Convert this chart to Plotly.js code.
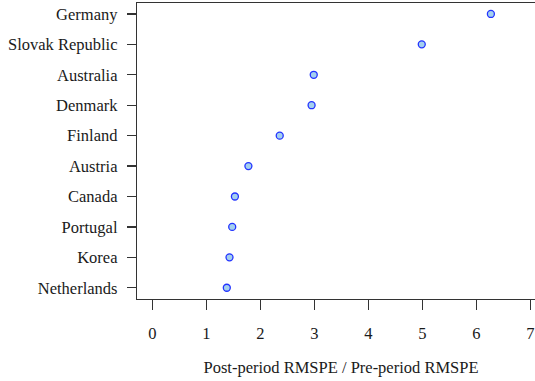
<!DOCTYPE html>
<html>
<head>
<meta charset="utf-8">
<script src="https://cdn.plot.ly/plotly-3.0.1.min.js"></script>
<style>
html,body{margin:0;padding:0;overflow:hidden;background:#fff;width:535px;height:381px;}
#chart{width:550px;height:381px;}
</style>
</head>
<body>
<div id="chart"></div>
<script>
// Countries listed from bottom to top
var countries = ["Netherlands","Korea","Portugal","Canada","Austria","Finland","Denmark","Australia","Slovak Republic","Germany"];
var ratio = [1.38, 1.43, 1.48, 1.53, 1.78, 2.36, 2.95, 2.99, 4.99, 6.27];
var xTicks = [0,1,2,3,4,5,6,7];

var fontFam = "Liberation Serif, serif";
var txtCol = "#1a1a1a";
var trace = {
  type: "scatter",
  mode: "markers",
  x: ratio,
  y: countries,
  marker: {symbol: "circle", size: 7, color: "#a4d0ee", line: {color: "#2233ff", width: 1.3}},
  hoverinfo: "x+y"
};
var layout = {
  width: 550, height: 381,
  margin: {l: 137, r: 5, t: 3, b: 82},
  paper_bgcolor: "#fff", plot_bgcolor: "#fff",
  showlegend: false,
  font: {family: fontFam, size: 16.5, color: txtCol},
  xaxis: {
    range: [-0.283, 7.272],
    tickvals: xTicks,
    ticktext: xTicks.map(String),
    showgrid: false, zeroline: false,
    showline: true, mirror: true, linecolor: "#333", linewidth: 1.2,
    ticks: "outside", ticklen: 10, tickwidth: 1.2, tickcolor: "#333",
    ticklabelstandoff: 9,
    tickfont: {family: fontFam, size: 16.5, color: txtCol},
    title: {text: "Post-period RMSPE / Pre-period RMSPE", font: {family: fontFam, size: 16.5, color: txtCol}, standoff: 19}
  },
  yaxis: {
    type: "category",
    categoryorder: "array", categoryarray: countries,
    range: [-0.37, 9.36],
    showgrid: false, zeroline: false,
    showline: true, mirror: true, linecolor: "#333", linewidth: 1.2,
    ticks: "outside", ticklen: 9, tickwidth: 1.2, tickcolor: "#333",
    ticklabelstandoff: 6,
    tickfont: {family: fontFam, size: 16.5, color: txtCol}
  }
};
Plotly.newPlot("chart", [trace], layout, {displayModeBar: false, staticPlot: true});
</script>
</body>
</html>
